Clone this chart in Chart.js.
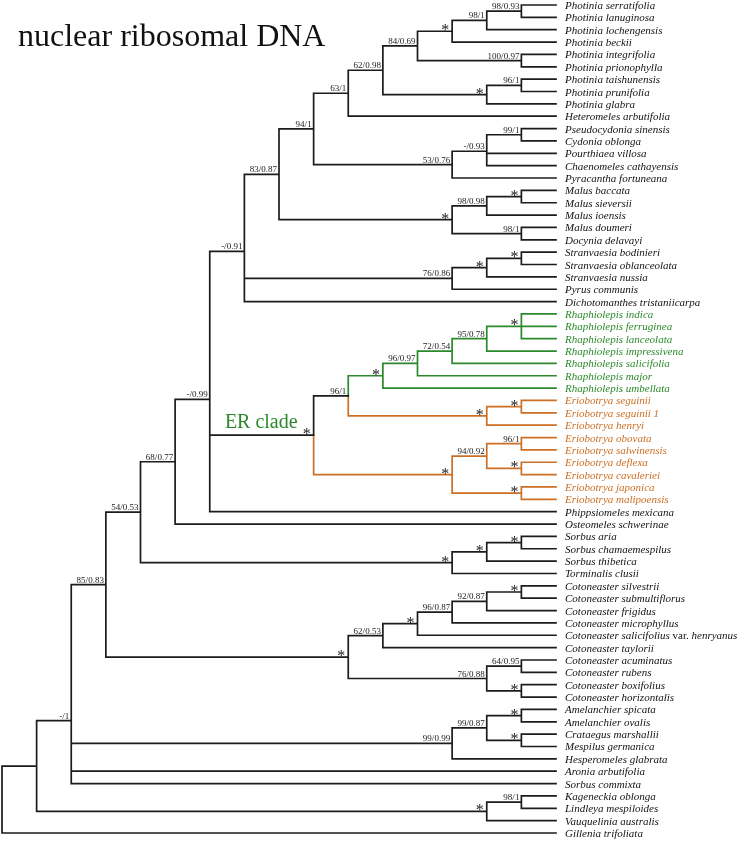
<!DOCTYPE html>
<html>
<head>
<meta charset="utf-8">
<script src="https://cdn.jsdelivr.net/npm/chart.js@4.4.1/dist/chart.umd.min.js"></script>
<style>
  html, body { margin: 0; padding: 0; background: #fff; }
  canvas { display: block; }
</style>
</head>
<body>
<canvas id="tree" width="738" height="842"></canvas>
<script>
// tips, top to bottom
const taxa = [
  'Photinia serratifolia', 'Photinia lanuginosa', 'Photinia lochengensis', 'Photinia beckii',
  'Photinia integrifolia', 'Photinia prionophylla', 'Photinia taishunensis', 'Photinia prunifolia',
  'Photinia glabra', 'Heteromeles arbutifolia', 'Pseudocydonia sinensis', 'Cydonia oblonga',
  'Pourthiaea villosa', 'Chaenomeles cathayensis', 'Pyracantha fortuneana', 'Malus baccata',
  'Malus sieversii', 'Malus ioensis', 'Malus doumeri', 'Docynia delavayi',
  'Stranvaesia bodinieri', 'Stranvaesia oblanceolata', 'Stranvaesia nussia', 'Pyrus communis',
  'Dichotomanthes tristaniicarpa', 'Rhaphiolepis indica', 'Rhaphiolepis ferruginea', 'Rhaphiolepis lanceolata',
  'Rhaphiolepis impressivena', 'Rhaphiolepis salicifolia', 'Rhaphiolepis major', 'Rhaphiolepis umbellata',
  'Eriobotrya seguinii', 'Eriobotrya seguinii 1', 'Eriobotrya henryi', 'Eriobotrya obovata',
  'Eriobotrya salwinensis', 'Eriobotrya deflexa', 'Eriobotrya cavaleriei', 'Eriobotrya japonica',
  'Eriobotrya malipoensis', 'Phippsiomeles mexicana', 'Osteomeles schwerinae', 'Sorbus aria',
  'Sorbus chamaemespilus', 'Sorbus thibetica', 'Torminalis clusii', 'Cotoneaster silvestrii',
  'Cotoneaster submultiflorus', 'Cotoneaster frigidus', 'Cotoneaster microphyllus', 'Cotoneaster salicifolius var. henryanus',
  'Cotoneaster taylorii', 'Cotoneaster acuminatus', 'Cotoneaster rubens', 'Cotoneaster boxifolius',
  'Cotoneaster horizontalis', 'Amelanchier spicata', 'Amelanchier ovalis', 'Crataegus marshallii',
  'Mespilus germanica', 'Hesperomeles glabrata', 'Aronia arbutifolia', 'Sorbus commixta',
  'Kageneckia oblonga', 'Lindleya mespiloides', 'Vauquelinia australis', 'Gillenia trifoliata'
];

// k = other, g = Rhaphiolepis, o = Eriobotrya
const taxonClade = [
  'k','k','k','k','k','k','k','k','k','k','k','k','k','k','k','k','k','k','k','k','k','k','k','k','k',
  'g','g','g','g','g','g','g',
  'o','o','o','o','o','o','o','o','o',
  'k','k','k','k','k','k','k','k','k','k','k','k','k','k','k','k','k','k','k','k','k','k','k','k','k','k','k'
];

// internal nodes in post-order; numbers = tips, 'nX' = node X
const nodeKids = [
  [0, 1], ['n0', 2], ['n1', 3], [4, 5], ['n2', 'n3'], [6, 7], ['n5', 8], ['n4', 'n6'],
  ['n7', 9], [10, 11], ['n9', 12, 13], ['n10', 14], ['n8', 'n11'], [15, 16], ['n13', 17], [18, 19],
  ['n14', 'n15'], ['n12', 'n16'], [20, 21], ['n18', 22], ['n19', 23], ['n17', 'n20', 24],
  [25, 26, 27], ['n22', 28], ['n23', 29], ['n24', 30], ['n25', 31], [32, 33], ['n27', 34],
  ['n26', 'n28'], [35, 36], [37, 38], ['n30', 'n31'], [39, 40], ['n32', 'n33'], ['n29', 'n34'],
  ['n21', 'n35', 41], ['n36', 42], [43, 44], ['n38', 45], ['n39', 46], ['n37', 'n40'],
  [47, 48], ['n42', 49], ['n43', 50], ['n44', 51], ['n45', 52], [53, 54], [55, 56], ['n47', 'n48'],
  ['n46', 'n49'], ['n41', 'n50'], [57, 58], [59, 60], ['n52', 'n53'], ['n54', 61],
  ['n51', 'n55', 62, 63], [64, 65], ['n57', 66], ['n56', 'n58'], ['n59', 67]
];

const nodeSupport = [
  '98/0.93', '98/1', '*', '100/0.97', '84/0.69', '96/1', '*', '62/0.98',
  '63/1', '99/1', '-/0.93', '53/0.76', '94/1', '*', '98/0.98', '98/1',
  '*', '83/0.87', '*', '*', '76/0.86', '-/0.91',
  '*', '95/0.78', '72/0.54', '96/0.97', '*', '*', '*',
  '96/1', '96/1', '*', '94/0.92', '*', '*', '*',
  '-/0.99', '68/0.77', '*', '*', '*', '54/0.53',
  '*', '92/0.87', '96/0.87', '*', '62/0.53', '64/0.95', '*', '76/0.88',
  '*', '85/0.83', '*', '*', '99/0.87', '99/0.99',
  '-/1', '98/1', '*', '', ''
];

const titleText = 'nuclear ribosomal DNA';
const cladeLabel = { text: 'ER clade', node: 35 };

const palette = { k: '#1c1c1c', g: '#2a8a2a', o: '#cd6f24' };
const textPalette = { k: '#111111', g: '#2a8a2a', o: '#cd6f24' };

// ---- layout from the topology: x = height above tips, y = mean of children ----
const nodeH = [], nodeY = [], nodeClade = [];
const idx = c => +c.slice(1);
const hOf = c => typeof c === 'number' ? 0 : nodeH[idx(c)];
const yOf = c => typeof c === 'number' ? c : nodeY[idx(c)];
const cladeOf = c => typeof c === 'number' ? taxonClade[c] : nodeClade[idx(c)];

nodeKids.forEach((kids, i) => {
  nodeH[i] = Math.max(...kids.map(hOf)) + 1;
  nodeY[i] = kids.reduce((s, k) => s + yOf(k), 0) / kids.length;
  const cs = new Set(kids.map(cladeOf));
  nodeClade[i] = cs.size === 1 ? [...cs][0] : 'k';
});
const rootH = nodeH[nodeH.length - 1];

const segs = { k: [], g: [], o: [] };
nodeKids.forEach((kids, i) => {
  const px = -nodeH[i], py = nodeY[i];
  kids.forEach(k => {
    const c = cladeOf(k);
    segs[c].push({ x: px, y: py }, { x: px, y: yOf(k) }, { x: -hOf(k), y: yOf(k) }, { x: px, y: null });
  });
});

const labelPlugin = {
  id: 'treeLabels',
  afterDatasetsDraw(chart) {
    const { ctx, scales: { x, y } } = chart;
    ctx.save();
    ctx.textBaseline = 'alphabetic';

    // tip names
    const tipX = x.getPixelForValue(0) + 9;
    taxa.forEach((name, i) => {
      const py = y.getPixelForValue(i) + 4;
      ctx.fillStyle = textPalette[taxonClade[i]];
      ctx.textAlign = 'left';
      const parts = name.includes(' var. ')
        ? [[name.split(' var. ')[0] + ' ', true], ['var. ', false], [name.split(' var. ')[1], true]]
        : [[name, true]];
      let cx = tipX;
      parts.forEach(([t, it]) => {
        ctx.font = (it ? 'italic ' : '') + '11px "Liberation Serif", "Times New Roman", serif';
        ctx.fillText(t, cx, py);
        cx += ctx.measureText(t).width;
      });
    });

    // support values
    ctx.fillStyle = '#222';
    ctx.textAlign = 'right';
    nodeSupport.forEach((s, i) => {
      if (!s) return;
      const px = x.getPixelForValue(-nodeH[i]);
      const py = y.getPixelForValue(nodeY[i]);
      if (s === '*') {
        ctx.font = '16px "Liberation Serif", serif';
        ctx.fillText(s, px - 3, py + 4);
      } else {
        ctx.font = '9px "Liberation Serif", serif';
        ctx.fillText(s, px - 2, py - 2);
      }
    });

    // clade label
    const ex = x.getPixelForValue(-nodeH[cladeLabel.node]);
    const ey = y.getPixelForValue(nodeY[cladeLabel.node]);
    ctx.fillStyle = palette.g;
    ctx.font = '20px "Liberation Serif", serif';
    ctx.fillText(cladeLabel.text, ex - 16, ey - 7);

    // title
    ctx.fillStyle = '#111';
    ctx.textAlign = 'left';
    ctx.font = '32px "Liberation Serif", serif';
    ctx.fillText(titleText, 18, 46);
    ctx.restore();
  }
};

new Chart(document.getElementById('tree'), {
  type: 'scatter',
  data: {
    datasets: ['k', 'g', 'o'].map(c => ({
      data: segs[c],
      showLine: true,
      spanGaps: false,
      borderColor: palette[c],
      borderWidth: 1.7,
      pointRadius: 0,
      pointHoverRadius: 0,
      borderCapStyle: 'square',
      borderJoinStyle: 'miter',
      clip: false
    }))
  },
  options: {
    responsive: false,
    animation: false,
    events: [],
    layout: { padding: { left: 2, right: 182, top: 5, bottom: 9 } },
    plugins: { legend: { display: false }, tooltip: { enabled: false } },
    scales: {
      x: { type: 'linear', min: -rootH, max: 0, display: false },
      y: { type: 'linear', min: 0, max: taxa.length - 1, reverse: true, display: false }
    }
  },
  plugins: [labelPlugin]
});
</script>
</body>
</html>
